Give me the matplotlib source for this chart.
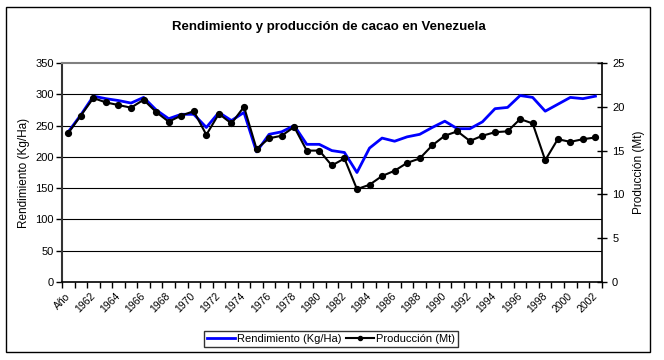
import matplotlib
matplotlib.use('Agg')
import matplotlib.pyplot as plt
from matplotlib.patches import Rectangle

plt.rcParams['font.family'] = ['Liberation Sans', 'DejaVu Sans']

# categories as in the original sheet: header cell "Año" then the years
years = ['Año'] + [str(y) for y in range(1961, 2003)]

rendimiento = [240, 267, 297, 293, 290, 286, 295, 275, 261, 268,
               268, 247, 271, 258, 271, 208, 236, 240, 250, 220,
               220, 210, 207, 175, 214, 230, 225, 232, 236, 247,
               257, 245, 245, 256, 277, 279, 298, 295, 273, 284,
               295, 293, 297]

produccion = [17.0, 19.0, 21.0, 20.5, 20.2, 19.9, 20.8, 19.4, 18.3, 19.0,
              19.5, 16.8, 19.2, 18.1, 20.0, 15.2, 16.4, 16.7, 17.7, 15.0,
              15.0, 13.3, 14.1, 10.6, 11.1, 12.1, 12.7, 13.6, 14.1, 15.6,
              16.7, 17.2, 16.1, 16.7, 17.1, 17.2, 18.6, 18.1, 13.9, 16.3,
              16.0, 16.3, 16.5]

left_ticks = [0, 50, 100, 150, 200, 250, 300, 350]
right_ticks = [0, 5, 10, 15, 20, 25]

x = list(range(len(years)))

fig = plt.figure(figsize=(6.64, 3.6), dpi=100)
ax = fig.add_axes([62 / 664, 78 / 360, (601.7 - 62) / 664, (282 - 63) / 360])

# outer chart frame
fig.patches.append(Rectangle((6 / 664, 8 / 360), 644 / 664, 345 / 360,
                             transform=fig.transFigure, fill=False,
                             edgecolor='black', linewidth=1))

for v in left_ticks[1:-1]:
    ax.axhline(v, color='black', linewidth=0.8, zorder=1)

l1, = ax.plot(x, rendimiento, color='#0000ff', linewidth=2.0, zorder=3,
              label='Rendimiento (Kg/Ha)')
ax.set_ylim(0, 350)
ax.set_xlim(-0.5, len(years) - 0.5)
ax.set_yticks(left_ticks)
ax.tick_params(axis='y', labelsize=8, length=4, width=1, direction='out', pad=2)
ax.set_ylabel('Rendimiento (Kg/Ha)', fontsize=8.5, labelpad=4)

# x axis: boundary ticks, labels every other category
ax.set_xticks([i for i in x if i % 2 == 0])
ax.set_xticklabels([years[i] for i in x if i % 2 == 0], rotation=45,
                   ha='right', va='center', rotation_mode='anchor', fontsize=7.5)
ax.set_xticks([i - 0.5 for i in range(len(years) + 1)], minor=True)
ax.tick_params(axis='x', which='major', length=0, pad=9)
ax.tick_params(axis='x', which='minor', length=4, width=1, direction='out')

ax.spines['top'].set_color('#808080')
ax.spines['top'].set_linewidth(1.5)
ax.spines['left'].set_linewidth(1.5)
ax.spines['left'].set_color('#333333')
ax.spines['bottom'].set_linewidth(1.2)
ax.spines['right'].set_visible(False)

ax2 = ax.twinx()
l2, = ax2.plot(x, produccion, color='black', linewidth=1.5, marker='o',
               markersize=4.2, zorder=4, label='Producción (Mt)')
ax2.set_ylim(0, 25)
ax2.set_yticks(right_ticks)
ax2.tick_params(axis='y', labelsize=8, length=7, width=1, direction='inout', pad=4)
ax2.set_ylabel('Producción (Mt)', fontsize=8.5, labelpad=6)
for s in ['top', 'left', 'bottom']:
    ax2.spines[s].set_visible(False)
ax2.spines['right'].set_linewidth(1.2)

fig.text(329 / 664, 1 - 27 / 360, 'Rendimiento y producción de cacao en Venezuela',
         ha='center', va='center', fontsize=9.5, fontweight='bold')

leg = fig.legend([l1, l2], ['Rendimiento (Kg/Ha)', 'Producción (Mt)'],
                 loc='center', bbox_to_anchor=(331 / 664, 1 - 339 / 360), ncol=2,
                 fontsize=8, frameon=True, fancybox=False, handlelength=2.5,
                 handletextpad=0.2, columnspacing=0.4, borderpad=0.25,
                 markerscale=0.7)
leg.get_frame().set_edgecolor('black')
leg.get_frame().set_linewidth(1)

fig.savefig('out.png', dpi=100)
